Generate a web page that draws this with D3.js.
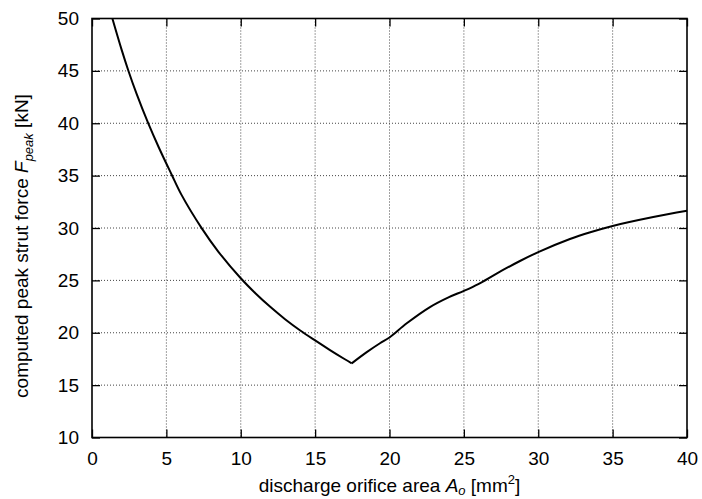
<!DOCTYPE html>
<html><head><meta charset="utf-8">
<script src="https://cdn.jsdelivr.net/npm/d3@7"></script>
<style>body{margin:0;background:#fff}svg{display:block}text{font-family:"Liberation Sans",Arial,sans-serif}</style>
</head><body><svg id="c" width="702" height="499"></svg>
<script>
const areaX = [1.37, 2.0, 2.44, 3.0, 3.77, 4.5, 5.35, 6.0, 7.37, 8.5, 10.0, 11.0, 12.0, 13.0, 14.0, 15.0, 16.0, 17.0, 17.46, 18.47, 19.36, 20.0, 21.16, 22.72, 24.0, 25.0, 25.97, 27.2, 28.77, 30.0, 32.13, 33.5, 35.0, 37.73, 40.0];
const forceY = [50.0, 46.98, 45.04, 42.8, 40.03, 37.66, 35.11, 33.21, 29.99, 27.73, 25.2, 23.75, 22.45, 21.27, 20.22, 19.27, 18.35, 17.47, 17.08, 18.15, 19.0, 19.55, 20.9, 22.45, 23.4, 24.0, 24.65, 25.65, 26.85, 27.7, 28.95, 29.6, 30.2, 31.05, 31.65];
const xTicks = [0,5,10,15,20,25,30,35,40];
const yTicks = [10,15,20,25,30,35,40,45,50];

const svg = d3.select("#c");
const L=92, R=687, T=18.5, B=437.5;
const FS = 19;
const x = d3.scaleLinear().domain([0,40]).range([L,R]);
const y = d3.scaleLinear().domain([10,50]).range([B,T]);

// grid
const g = svg.append("g");
g.selectAll(".vg").data(xTicks.slice(1,-1)).enter().append("line")
 .attr("x1",d=>x(d)).attr("x2",d=>x(d)).attr("y1",T).attr("y2",B)
 .attr("stroke","#444").attr("stroke-width",1).attr("stroke-dasharray","1,2");
g.selectAll(".hg").data(yTicks.slice(1,-1)).enter().append("line")
 .attr("y1",d=>y(d)).attr("y2",d=>y(d)).attr("x1",L).attr("x2",R)
 .attr("stroke","#444").attr("stroke-width",1).attr("stroke-dasharray","1,2");

// axes with inward ticks (mirrored)
const tl = 8;
const ax = svg.append("g").attr("transform",`translate(0,${B})`)
 .call(d3.axisBottom(x).tickValues(xTicks).tickSize(-tl).tickFormat(d3.format("d")));
const axT = svg.append("g").attr("transform",`translate(0,${T})`)
 .call(d3.axisTop(x).tickValues(xTicks).tickSize(-tl).tickFormat(""));
const ay = svg.append("g").attr("transform",`translate(${L},0)`)
 .call(d3.axisLeft(y).tickValues(yTicks).tickSize(-tl).tickPadding(13).tickFormat(d3.format("d")));
const ayR = svg.append("g").attr("transform",`translate(${R},0)`)
 .call(d3.axisRight(y).tickValues(yTicks).tickSize(-tl).tickFormat(""));
[ax,axT,ay,ayR].forEach(a=>{
  a.select(".domain").remove();
  a.selectAll(".tick line").attr("stroke","#000").attr("stroke-width",1.3);
  a.selectAll("text").attr("font-size",FS).attr("fill","#000").attr("font-family","Liberation Sans, Arial, sans-serif");
});
ax.selectAll(".tick text").attr("y",14).attr("dy","0.71em");
// frame
svg.append("rect").attr("x",L).attr("y",T).attr("width",R-L).attr("height",B-T)
 .attr("fill","none").attr("stroke","#000").attr("stroke-width",1.6);

// curve (two branches meeting at the sharp minimum)
const pts = areaX.map((d,i)=>[d,forceY[i]]);
const iMin = d3.minIndex(forceY);
const line = d3.line().x(d=>x(d[0])).y(d=>y(d[1])).curve(d3.curveCatmullRom.alpha(0.5));
[pts.slice(0,iMin+1), pts.slice(iMin)].forEach(seg=>{
  svg.append("path").datum(seg).attr("d",line)
   .attr("fill","none").attr("stroke","#000").attr("stroke-width",2).attr("stroke-linejoin","miter");
});

// x label
const xl = svg.append("text").attr("x",(L+R)/2).attr("y",492).attr("text-anchor","middle").attr("font-size",FS);
xl.append("tspan").text("discharge orifice area ");
xl.append("tspan").attr("font-style","italic").text("A");
xl.append("tspan").attr("font-style","italic").attr("font-size",13).attr("dy",3).text("o");
xl.append("tspan").attr("dy",-3).text(" [mm");
xl.append("tspan").attr("font-size",13).attr("dy",-8).text("2");
xl.append("tspan").attr("dy",8).text("]");

// y label
const yl = svg.append("text").attr("transform","translate(28,246) rotate(-90)").attr("text-anchor","middle").attr("font-size",FS);
yl.append("tspan").text("computed peak strut force ");
yl.append("tspan").attr("font-style","italic").text("F");
yl.append("tspan").attr("font-style","italic").attr("font-size",13).attr("dy",5).text("peak");
yl.append("tspan").attr("dy",-5).text(" [kN]");
</script></body></html>
